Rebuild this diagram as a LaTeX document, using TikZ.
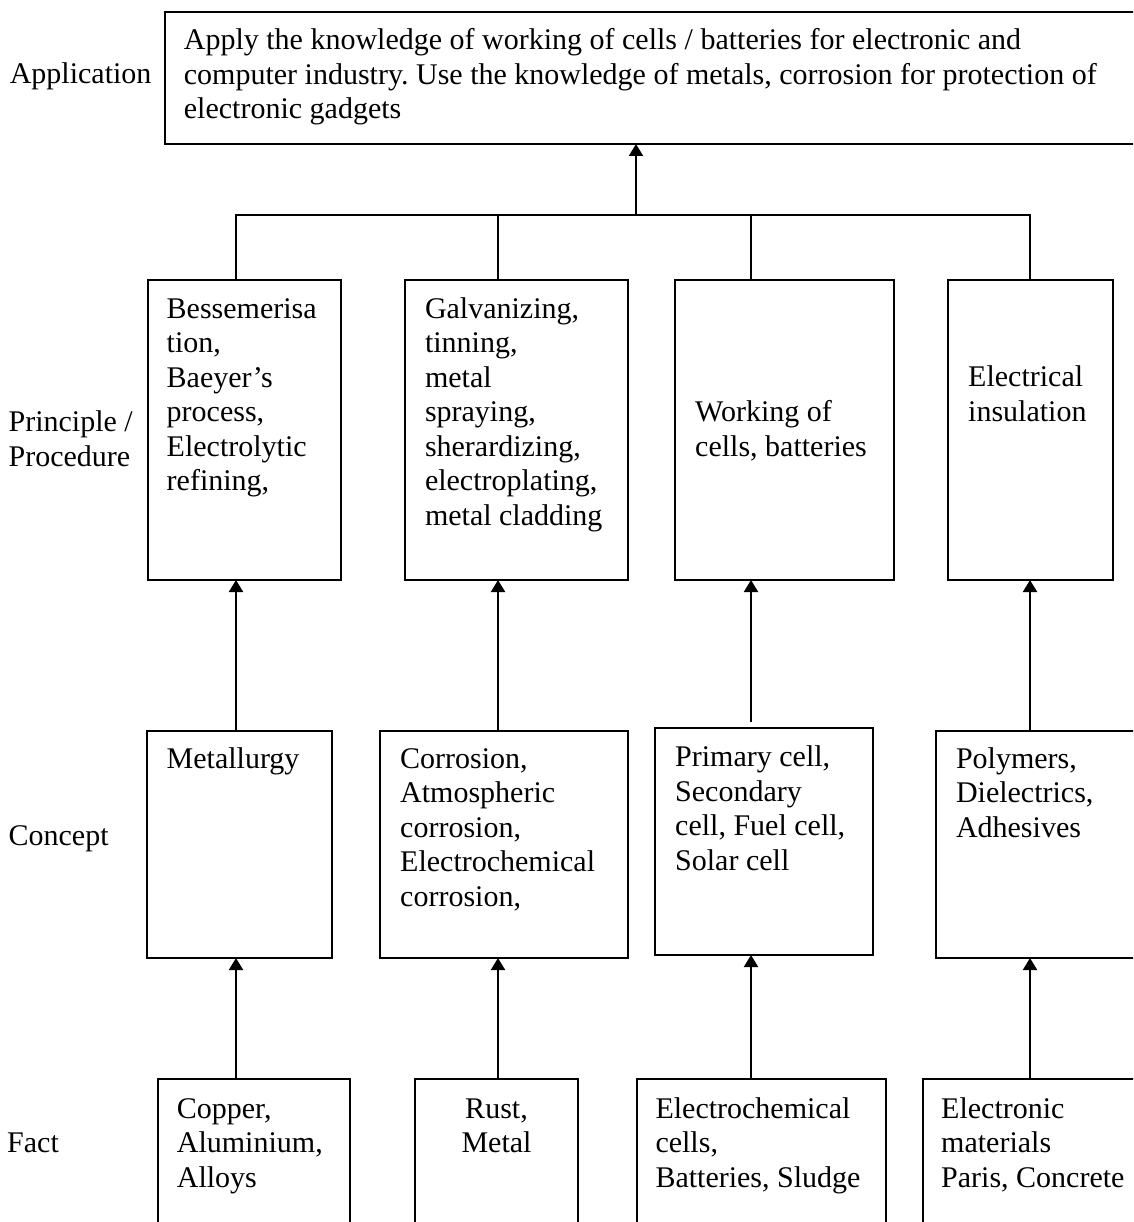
\documentclass[tikz,border=0pt]{standalone}
\usepackage{fontspec}
\setmainfont{Liberation Serif}
\usetikzlibrary{arrows.meta}
\frenchspacing
\newcommand\dfont{\fontsize{30}{34.5}\selectfont}
\tikzset{
  box/.style={draw, line width=2pt, inner sep=0pt, outer sep=0pt, anchor=north west},
  txt/.style={font=\dfont, align=left, inner sep=0pt, anchor=base west},
  ctxt/.style={font=\dfont, align=center, inner sep=0pt, anchor=base},
  ln/.style={line width=2pt},
  arr/.style={line width=2pt, -{Triangle[width=14pt,length=12pt]}}
}
\begin{document}
\begin{tikzpicture}[x=1pt,y=-1pt]
\useasboundingbox (0,0) rectangle (1133,1222);
\clip (0,0) rectangle (1133,1222);
% column coordinates
\coordinate (x1) at (236,0);
\coordinate (x2) at (498,0);
\coordinate (x3) at (751,0);
\coordinate (x4) at (1030,0);
\coordinate (xa) at (636,0);
\coordinate (bus) at (0,215);
% boxes
\node[box, minimum width=980pt, minimum height=132pt] (app) at (165,12) {};
\node[box, minimum width=193pt, minimum height=300pt] (p1) at (148,280) {};
\node[box, minimum width=223pt, minimum height=300pt] (p2) at (405,280) {};
\node[box, minimum width=219pt, minimum height=300pt] (p3) at (675,280) {};
\node[box, minimum width=165pt, minimum height=300pt] (p4) at (948,280) {};
\node[box, minimum width=185pt, minimum height=227pt] (c1) at (147,731) {};
\node[box, minimum width=248pt, minimum height=227pt] (c2) at (380,731) {};
\node[box, minimum width=218pt, minimum height=227pt] (c3) at (655,728) {};
\node[box, minimum width=209pt, minimum height=227pt] (c4) at (936,731) {};
\node[box, minimum width=192pt, minimum height=161pt] (f1) at (158,1079) {};
\node[box, minimum width=163pt, minimum height=161pt] (f2) at (415,1079) {};
\node[box, minimum width=249pt, minimum height=161pt] (f3) at (637,1079) {};
\node[box, minimum width=222pt, minimum height=161pt] (f4) at (923,1079) {};
% row labels (anchor = baseline of last line)
\node[txt] (lapp) at (9.6,84) {Application};
\node[txt] (lpri) at (8.4,431.7+34.5) {Principle /\\Procedure};
\node[txt] (lcon) at (8.4,845) {Concept};
\node[txt] (lfac) at (7,1152.7) {Fact};
% texts
\node[txt] (tapp) at (183.7,50+2*34.5) {Apply the knowledge of working of cells / batteries for electronic and\\computer industry. Use the knowledge of metals, corrosion for protection of\\electronic gadgets};
\node[txt] (tp1) at (166.5,318+5*34.5) {Bessemerisa\\tion,\\Baeyer’s\\process,\\Electrolytic\\refining,};
\node[txt] (tp2) at (424.8,318+6*34.5) {Galvanizing,\\tinning,\\metal\\spraying,\\sherardizing,\\electroplating,\\metal cladding};
\node[txt] (tp3) at (695,421.7+34.5) {Working of\\cells, batteries};
\node[txt] (tp4) at (968,386.7+34.5) {Electrical\\insulation};
\node[txt] (tc1) at (166.5,768.3) {Metallurgy};
\node[txt] (tc2) at (400,768+4*34.5) {Corrosion,\\Atmospheric\\corrosion,\\Electrochemical\\corrosion,};
\node[txt] (tc3) at (675,766.7+3*34.5) {Primary cell,\\Secondary\\cell, Fuel cell,\\Solar cell};
\node[txt] (tc4) at (955.8,768.3+2*34.5) {Polymers,\\Dielectrics,\\Adhesives};
\node[txt] (tf1) at (176.7,1118.3+2*34.5) {Copper,\\Aluminium,\\Alloys};
\node[ctxt] (tf2) at (496.5,1118.3+34.5) {Rust,\\Metal};
\node[txt] (tf3) at (655.3,1118.3+2*34.5) {Electrochemical\\cells,\\Batteries, Sludge};
\node[txt] (tf4) at (941,1118.3+2*34.5) {Electronic\\materials\\Paris, Concrete};
% fact -> concept
\draw[arr] (f1.north -| x1) -- (c1.south -| x1);
\draw[arr] (f2.north -| x2) -- (c2.south -| x2);
\draw[arr] (f3.north -| x3) -- (c3.south -| x3);
\draw[arr] (f4.north -| x4) -- (c4.south -| x4);
% concept -> principle
\draw[arr] (c1.north -| x1) -- (p1.south -| x1);
\draw[arr] (c2.north -| x2) -- (p2.south -| x2);
\draw[arr, shorten <=6.5pt] (c3.north -| x3) -- (p3.south -| x3);
\draw[arr] (c4.north -| x4) -- (p4.south -| x4);
% principle -> application
\draw[ln] (p1.north -| x1) -- (bus -| x1) -- (bus -| x4) -- (p4.north -| x4);
\draw[ln] (p2.north -| x2) -- (bus -| x2);
\draw[ln] (p3.north -| x3) -- (bus -| x3);
\draw[arr] (bus -| xa) -- (app.south -| xa);
\end{tikzpicture}
\end{document}
